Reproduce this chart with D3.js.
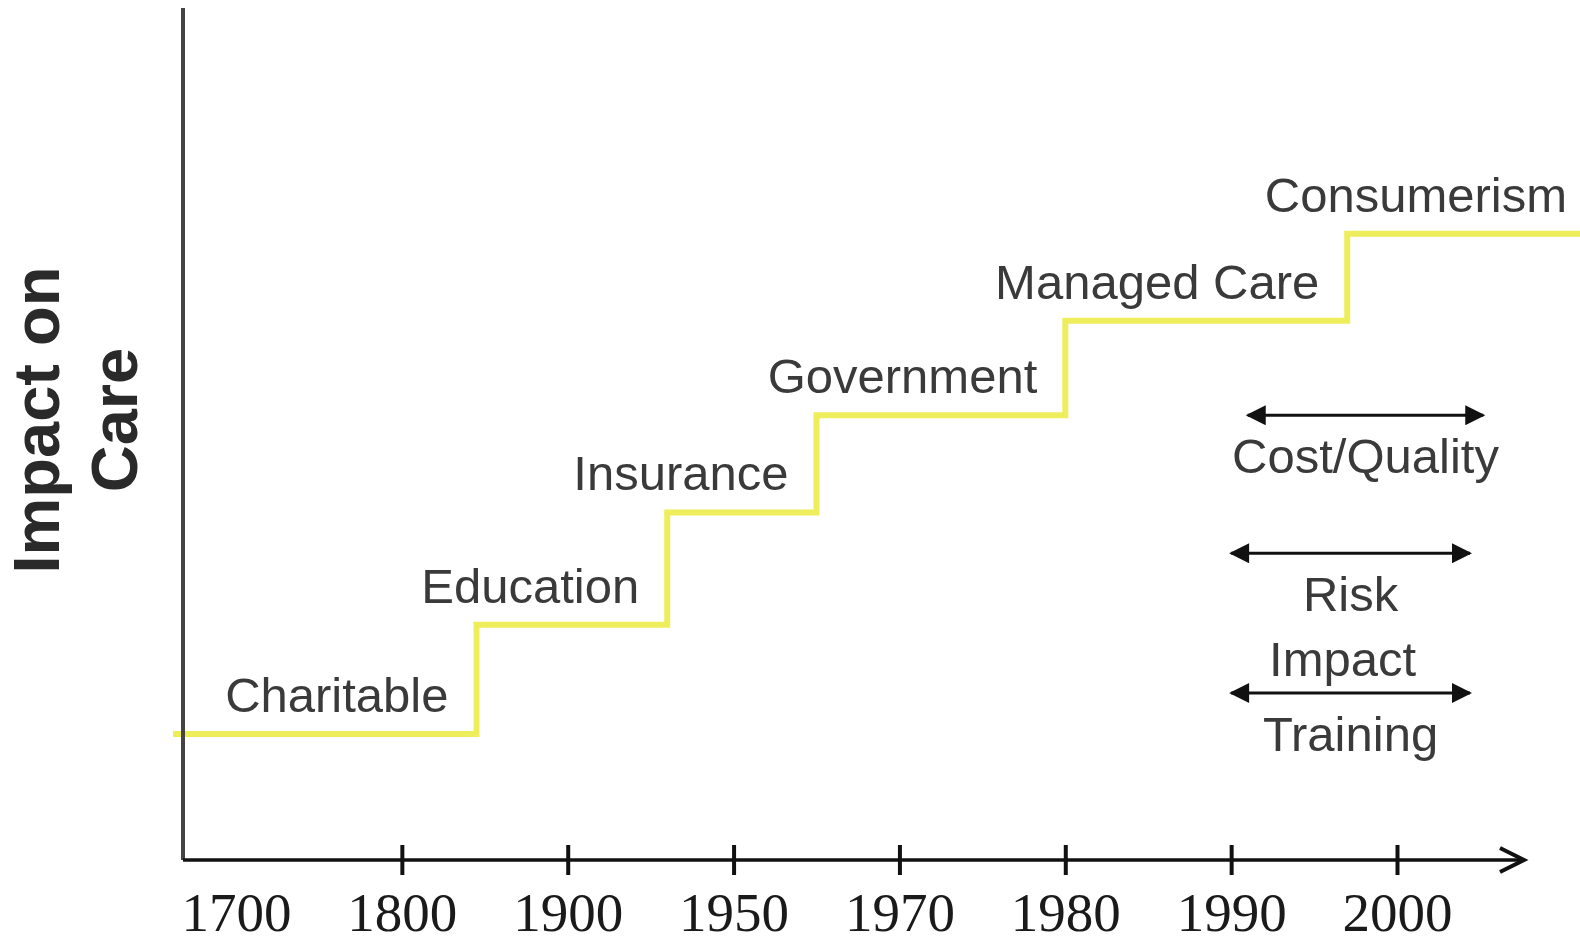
<!DOCTYPE html>
<html>
<head>
<meta charset="utf-8">
<script src="https://cdn.jsdelivr.net/npm/d3@7"></script>
<style>
    body { margin: 0; background: #fff; }
</style>
</head>
<body>
<div id="chart"></div>
<script>
// eras of care and the impact level each one steps up to
var eras = ["Charitable", "Education", "Insurance", "Government", "Managed Care", "Consumerism"];
var eraStart = [1662, 1845, 1930, 1960, 1980, 1997];
var eraImpact = [14.8, 27.6, 40.8, 52.2, 63.3, 73.5];
var lineEnd = 2012;

// x axis tick labels
var tickYears = [1700, 1800, 1900, 1950, 1970, 1980, 1990, 2000];

// double arrows on the right
var noteLabels = ["Cost/Quality", "Risk", "Training"];
var noteAbove = ["", "", "Impact"];
var noteImpact = [52.2, 36, 19.6];
var noteFrom = [1991, 1990, 1990];
var noteTo = [2005.2, 2004.4, 2004.4];

var width = 1580, height = 944;
var originX = 183, originY = 860, axisTop = 8, axisEnd = 1524;

var svg = d3.select("#chart")
    .append("svg")
    .attr("width", width)
    .attr("height", height)
    .style("background", "#fff");

// tick positions are evenly spaced, years in between are placed piecewise
var xPoint = d3.scalePoint()
    .domain(tickYears)
    .range([236, 1397]);

var x = d3.scaleLinear()
    .domain(tickYears)
    .range(tickYears.map(function (d) { return xPoint(d); }));

var y = d3.scaleLinear()
    .domain([0, 100])
    .range([originY, axisTop]);

var defs = svg.append("defs");
defs.append("marker")
    .attr("id", "head")
    .attr("viewBox", "0 0 10 10")
    .attr("refX", 9)
    .attr("refY", 5)
    .attr("markerUnits", "userSpaceOnUse")
    .attr("markerWidth", 25)
    .attr("markerHeight", 20)
    .attr("orient", "auto-start-reverse")
    .append("path")
    .attr("d", "M0,0 L10,5 L0,10 Z")
    .attr("fill", "#111");

// the step line
var pts = eraStart.map(function (d, i) { return {year: d, value: eraImpact[i]}; });
pts.push({year: lineEnd, value: eraImpact[eraImpact.length - 1]});

var line = d3.line()
    .x(function (d) { return x(d.year); })
    .y(function (d) { return y(d.value); })
    .curve(d3.curveStepAfter);

svg.append("path")
    .datum(pts)
    .attr("d", line)
    .attr("fill", "none")
    .attr("stroke", "#eeee5c")
    .attr("stroke-width", 6);

// era labels, right aligned just before the next step
svg.selectAll("eraLabels")
    .data(eras)
    .enter()
    .append("text")
    .attr("x", function (d, i) {
        return i < eras.length - 1 ? x(eraStart[i + 1]) - 28 : width - 13;
    })
    .attr("y", function (d, i) { return y(eraImpact[i]) - 22; })
    .attr("text-anchor", "end")
    .style("font-family", "'Liberation Sans', Arial, sans-serif")
    .style("font-size", "49px")
    .style("fill", "#3a3a3a")
    .text(function (d) { return d; });

// axes
svg.append("line")
    .attr("x1", originX).attr("x2", originX)
    .attr("y1", axisTop).attr("y2", originY)
    .attr("stroke", "#444")
    .attr("stroke-width", 4);

svg.append("line")
    .attr("x1", originX).attr("x2", axisEnd)
    .attr("y1", originY).attr("y2", originY)
    .attr("stroke", "#111")
    .attr("stroke-width", 3.5);

svg.append("path")
    .attr("d", "M" + (axisEnd - 24) + "," + (originY - 12) + "L" + axisEnd + "," + originY + "L" + (axisEnd - 24) + "," + (originY + 12))
    .attr("fill", "none")
    .attr("stroke", "#111")
    .attr("stroke-width", 4);

var xAxis = svg.append("g")
    .attr("transform", "translate(0," + originY + ")")
    .call(d3.axisBottom(xPoint).tickSize(15));

xAxis.select(".domain").remove();
xAxis.selectAll(".tick line")
    .attr("y1", -15)
    .attr("y2", 15)
    .attr("stroke", "#111")
    .attr("stroke-width", 4)
    .style("display", function (d, i) { return i === 0 ? "none" : null; });
xAxis.selectAll(".tick text")
    .attr("y", 71)
    .attr("dy", 0)
    .style("font-family", "'Liberation Serif', 'Times New Roman', serif")
    .style("font-size", "55px")
    .style("fill", "#1a1a1a");

// y axis title
var yTitle = svg.append("text")
    .attr("transform", "translate(0,420) rotate(-90)")
    .attr("text-anchor", "middle")
    .style("font-family", "'Liberation Sans', Arial, sans-serif")
    .style("font-size", "65px")
    .style("font-weight", "bold")
    .style("fill", "#2a2a2a");
yTitle.append("tspan").attr("x", 0).attr("y", 59).text("Impact on");
yTitle.append("tspan").attr("x", 0).attr("y", 137).text("Care");

// double headed arrows with their labels
var notes = svg.selectAll("notes")
    .data(noteLabels)
    .enter()
    .append("g");

notes.append("line")
    .attr("x1", function (d, i) { return x(noteFrom[i]); })
    .attr("x2", function (d, i) { return x(noteTo[i]); })
    .attr("y1", function (d, i) { return y(noteImpact[i]); })
    .attr("y2", function (d, i) { return y(noteImpact[i]); })
    .attr("stroke", "#111")
    .attr("stroke-width", 3)
    .attr("marker-start", "url(#head)")
    .attr("marker-end", "url(#head)");

notes.append("text")
    .attr("x", function (d, i) { return (x(noteFrom[i]) + x(noteTo[i])) / 2; })
    .attr("y", function (d, i) { return y(noteImpact[i]) + 58; })
    .attr("text-anchor", "middle")
    .style("font-family", "'Liberation Sans', Arial, sans-serif")
    .style("font-size", "49px")
    .style("fill", "#3a3a3a")
    .text(function (d) { return d; });

notes.filter(function (d, i) { return noteAbove[i] !== ""; })
    .append("text")
    .attr("x", function (d) {
        var i = noteLabels.indexOf(d);
        return (x(noteFrom[i]) + x(noteTo[i])) / 2 - 8;
    })
    .attr("y", function (d) { return y(noteImpact[noteLabels.indexOf(d)]) - 17; })
    .attr("text-anchor", "middle")
    .style("font-family", "'Liberation Sans', Arial, sans-serif")
    .style("font-size", "49px")
    .style("fill", "#3a3a3a")
    .text(function (d) { return noteAbove[noteLabels.indexOf(d)]; });
</script>
</body>
</html>
